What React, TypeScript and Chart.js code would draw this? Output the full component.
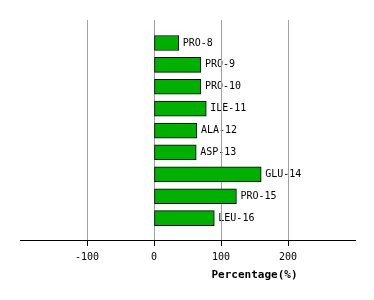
import React, { useEffect, useRef } from "react";
import { Chart, registerables } from "chart.js";

Chart.register(...registerables);

const residues = ["PRO-8", "PRO-9", "PRO-10", "ILE-11", "ALA-12", "ASP-13", "GLU-14", "PRO-15", "LEU-16"];
const percentages = [37, 70, 70, 78, 64, 63, 160, 123, 90];
const xTicks = [-100, 0, 100, 200];
const axisTitle = "Percentage(%)";

const FONT = "'DejaVu Sans Mono', monospace";

const labelPlugin = {
  id: "barLabels",
  beforeDraw(chart: any) {
    const ctx = chart.ctx;
    const meta = chart.getDatasetMeta(0);
    ctx.save();
    ctx.font = `10px ${FONT}`;
    ctx.fillStyle = "#000";
    ctx.textAlign = "left";
    ctx.textBaseline = "middle";
    meta.data.forEach((bar: any, i: number) => {
      ctx.fillText(residues[i], bar.x + 4, bar.y);
    });
    const xs = chart.scales.x;
    ctx.font = `bold 11px ${FONT}`;
    ctx.textAlign = "center";
    ctx.fillText(axisTitle, xs.getPixelForValue(150), chart.chartArea.bottom + 35);
    ctx.restore();
  },
};

export default function App() {
  const ref = useRef<HTMLCanvasElement>(null);
  useEffect(() => {
    document.body.style.margin = "0";
    const chart = new Chart(ref.current!, {
      type: "bar",
      data: {
        datasets: [
          {
            data: percentages.map((v, i) => ({ x: v, y: i })) as any,
            backgroundColor: "#00b000",
            borderColor: "#000",
            borderWidth: 1,
            borderSkipped: false,
            barThickness: 15,
          },
        ],
      },
      options: {
        indexAxis: "y",
        animation: false,
        responsive: false,
        layout: { padding: { left: 20, right: 19, top: 20, bottom: 0 } },
        plugins: { legend: { display: false }, tooltip: { enabled: false } },
        scales: {
          y: {
            type: "linear",
            min: -1.05,
            max: 9,
            reverse: true,
            offset: false,
            display: false,
          },
          x: {
            type: "linear",
            min: -200,
            max: 300,
            afterBuildTicks: (s: any) => {
              s.ticks = xTicks.map((v) => ({ value: v }));
            },
            afterFit: (s: any) => {
              s.height = 60;
            },
            grid: {
              color: "#a0a0a0",
              lineWidth: 1,
              drawTicks: true,
              tickLength: 6,
              tickColor: "#000",
            },
            border: { color: "#000", width: 1 },
            ticks: {
              font: { family: FONT, size: 10 },
              color: "#000",
              padding: 5,
              maxRotation: 0,
              autoSkip: false,
            },
          },
        },
      },
      plugins: [labelPlugin],
    } as any);
    return () => chart.destroy();
  }, []);
  return <canvas ref={ref} width={374} height={300} style={{ display: "block" }} />;
}
